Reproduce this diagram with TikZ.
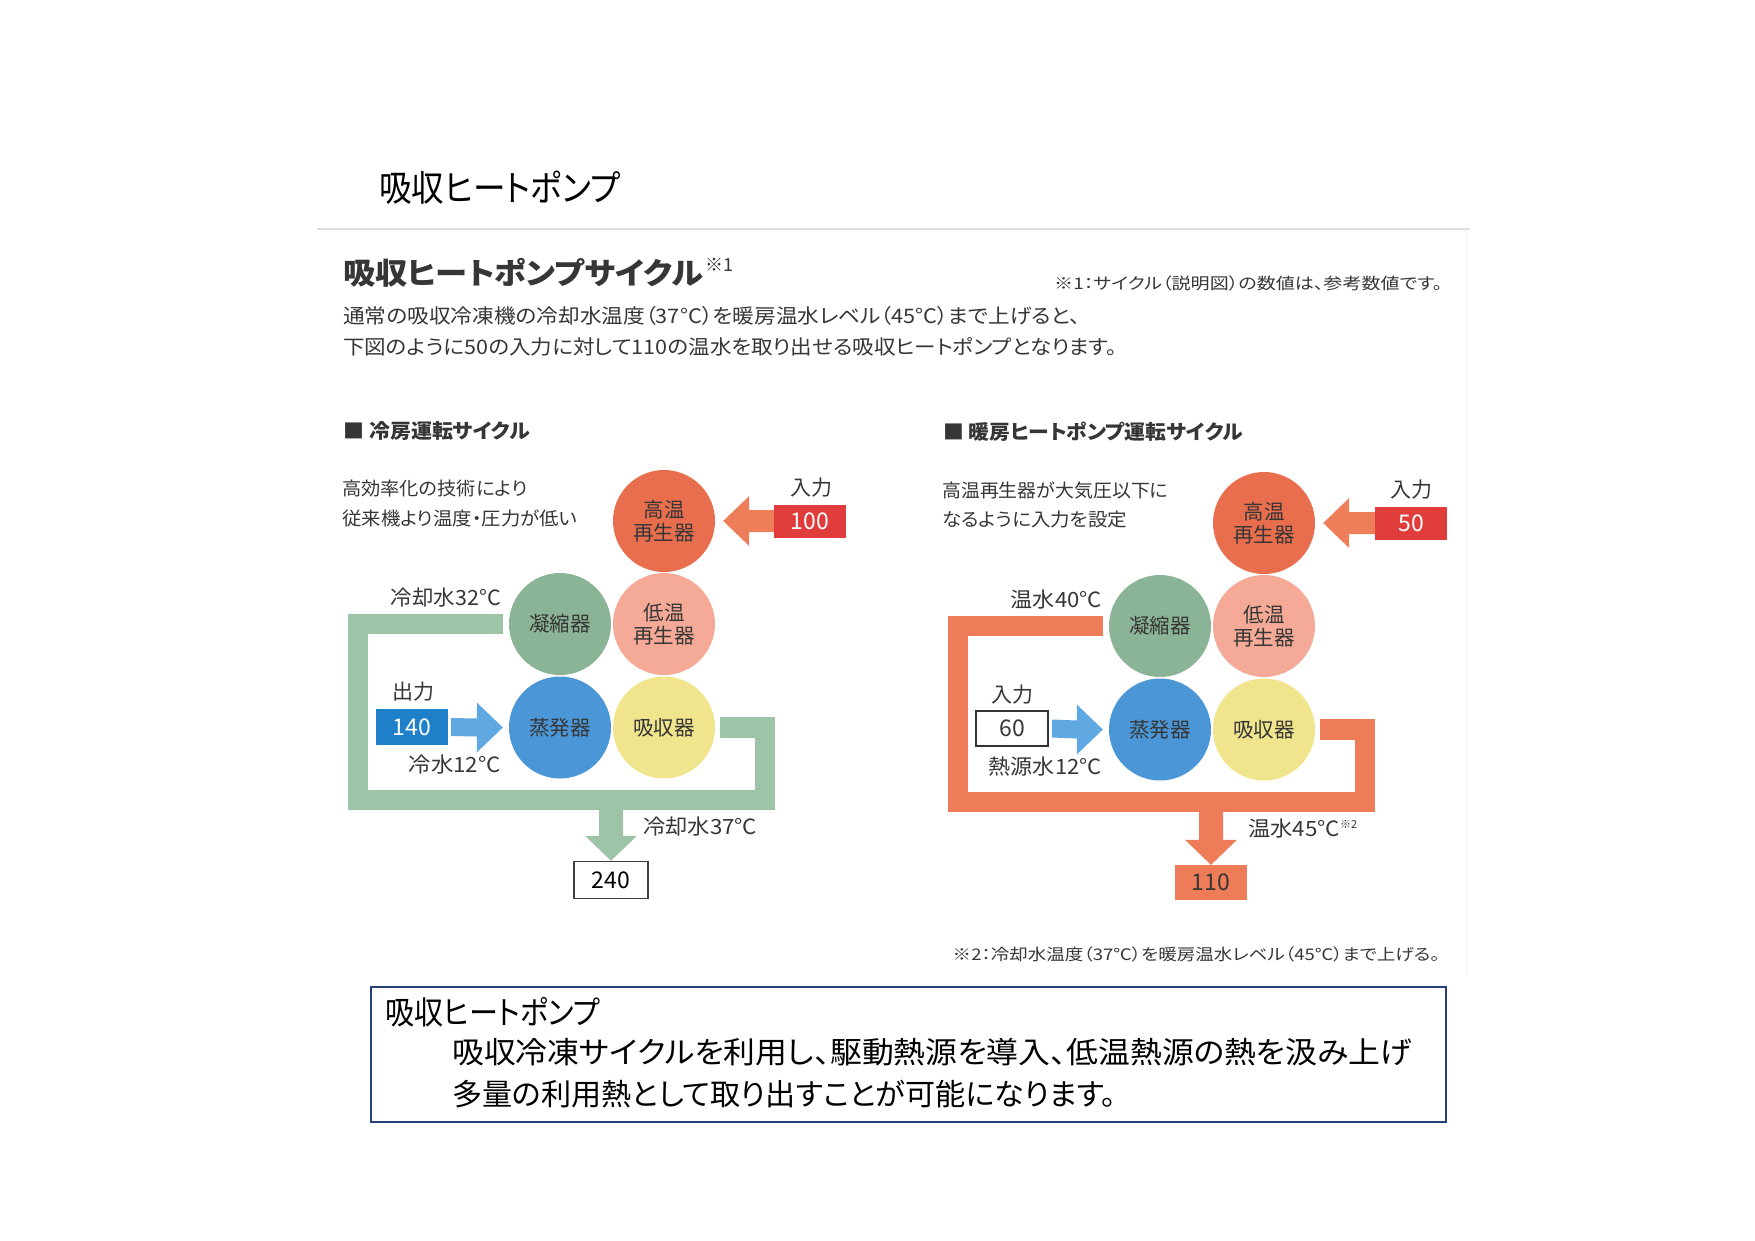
\documentclass[tikz,border=0pt]{standalone}
\usepackage{fontspec}
\usepackage{graphicx}
\usetikzlibrary{calc}
\newfontfamily\jp[RawFeature=+palt]{Noto Sans CJK JP}
\newfontfamily\jpf{Noto Sans CJK JP}
\newcommand\fw[2]{\resizebox{#1}{\height}{#2}}
\newcommand\setfs[1]{\fontsize{#1pt}{#1pt}\selectfont}
\newcommand\setfsb[2]{\fontsize{#1pt}{#2pt}\selectfont}
\definecolor{txtg}{HTML}{363636}
\definecolor{cHG}{HTML}{E86E4E}
\definecolor{cCD}{HTML}{8BB496}
\definecolor{cLG}{HTML}{F4AA96}
\definecolor{cEV}{HTML}{4B96D7}
\definecolor{cAB}{HTML}{F0E48C}
\definecolor{cArr}{HTML}{EE7D5A}
\definecolor{cRed}{HTML}{E13C3C}
\definecolor{cBlue}{HTML}{1E80C8}
\definecolor{cLBlue}{HTML}{5FA8E1}
\definecolor{cBandG}{HTML}{9DC4A6}
\definecolor{cBandO}{HTML}{EE7C58}
\definecolor{cNavy}{HTML}{24407A}
\begin{document}
\begin{tikzpicture}[x=1pt,y=-1pt,
  txt/.style={inner sep=0pt, text=txtg, font={\jp\setfs{21}}},
  blk/.style={inner sep=0pt, text=black},
  unit/.style={circle, minimum size=102pt, inner sep=0pt, align=center, text=txtg, font={\jp\setfsb{20.5}{23}}},
  valbox/.style={minimum width=72pt, minimum height=33pt, inner sep=0pt, font={\jp\setfs{23}}},
  band/.style={line width=20.5pt},
]
\useasboundingbox (0,0) rectangle (1755,1241);
\fill[white] (0,0) rectangle (1755,1241);

% ---- title and header ----
\node[blk, anchor=west, font={\jp\setfs{36}}] (title) at (379,187.5) {\fw{241pt}{吸収ヒートポンプ}};
\draw[gray!25, line width=1.5pt] (317,229) -- (1470,229);
\draw[gray!8, line width=1pt] (1466,229) -- (1466,975);

\node[txt, anchor=west, font={\jp\bfseries\setfs{30}}] (head) at (343,273) {\fw{360pt}{吸収ヒートポンプサイクル}};
\node[txt, anchor=west, font={\jp\setfs{18}}] (headn) at (705,265) {※1};
\node[txt, anchor=west, font={\jp\setfs{16}}] (note1) at (1054,283) {\fw{388pt}{※1：サイクル（説明図）の数値は、参考数値です。}};
\node[txt, anchor=west, font={\jp\setfs{20}}] (body1) at (343,316) {\fw{737pt}{通常の吸収冷凍機の冷却水温度（37°C）を暖房温水レベル（45°C）まで上げると、}};
\node[txt, anchor=west, font={\jp\setfs{20}}] (body2) at (343,346.5) {\fw{774pt}{下図のように50の入力に対して110の温水を取り出せる吸収ヒートポンプとなります。}};

\node[txt, anchor=west, font={\jp\bfseries\setfs{20}}] (sec1) at (343,431) {\fw{187pt}{■ 冷房運転サイクル}};
\node[txt, anchor=west, font={\jp\bfseries\setfs{20}}] (sec2) at (943,432) {\fw{300pt}{■ 暖房ヒートポンプ運転サイクル}};

% ---- left: cooling cycle ----
\node[txt, anchor=west, font={\jp\setfs{18.5}}] (lt1) at (342,488) {\fw{185pt}{高効率化の技術により}};
\node[txt, anchor=west, font={\jp\setfs{18.5}}] (lt2) at (342,518) {\fw{235pt}{従来機より温度・圧力が低い}};

\node[unit, fill=cHG] (hg) at (664,521) {高温\\再生器};
\node[unit, fill=cCD] (cd) at (560,624) {凝縮器};
\node[unit, fill=cLG] (lg) at (664,624) {低温\\再生器};
\node[unit, fill=cEV] (ev) at (560,727.5) {蒸発器};
\node[unit, fill=cAB] (ab) at (664,727.5) {吸収器};

\node[txt] (inl) at (811,488) {入力};
\node[valbox, fill=cRed, text=white] (in100) at (810,521) {100};
\coordinate (inTip) at ($(hg.east)+(8,0)$);
\fill[cArr] ($(in100.west)+(0,-11)$) -- ($(inTip)+(26,-11)$) -- ($(inTip)+(26,-25)$) -- (inTip)
  -- ($(inTip)+(26,25)$) -- ($(inTip)+(26,11)$) -- ($(in100.west)+(0,11)$) -- cycle;

\draw[band, cBandG] ($(cd.west)+(-6,0)$) -- (357.8,624) -- (357.8,800) -- (765,800) -- (765,727.5) -- ($(ab.east)+(5,0)$);
\node[valbox, draw=black!75, line width=1.5pt, fill=white, minimum width=74pt, minimum height=37pt] (b240) at (611,880) {240};
\fill[cBandG] ($(b240.north)+(-12,-61)$) -- ($(b240.north)+(-12,-25)$) -- ($(b240.north)+(-26,-25)$) -- (b240.north)
  -- ($(b240.north)+(26,-25)$) -- ($(b240.north)+(12,-25)$) -- ($(b240.north)+(12,-61)$) -- cycle;

\node[txt, anchor=east] (t32) at (501,598) {\fw{110pt}{冷却水32°C}};
\node[txt, anchor=west] (t37) at (643,826.5) {\fw{114pt}{冷却水37°C}};

\node[txt] (outl) at (413,692) {出力};
\node[valbox, fill=cBlue, text=white, minimum height=36pt] (o140) at (412,727) {140};
\coordinate (oTip) at ($(ev.west)+(-6,0)$);
\fill[cLBlue] ($(o140.east)+(3,-9)$) -- ($(oTip)+(-26,-9)$) -- ($(oTip)+(-26,-25)$) -- (oTip)
  -- ($(oTip)+(-26,25)$) -- ($(oTip)+(-26,9)$) -- ($(o140.east)+(3,9)$) -- cycle;
\node[txt, anchor=east] (t12) at (501,765) {\fw{92pt}{冷水12°C}};

% ---- right: heating heat-pump cycle ----
\begin{scope}[shift={(600,2)}, name prefix=R-]
\node[txt, anchor=west, font={\jp\setfs{18.5}}] (lt1) at (342,488) {\fw{226pt}{高温再生器が大気圧以下に}};
\node[txt, anchor=west, font={\jp\setfs{18.5}}] (lt2) at (342,518) {\fw{185pt}{なるように入力を設定}};

\node[unit, fill=cHG] (hg) at (664,521) {高温\\再生器};
\node[unit, fill=cCD] (cd) at (560,624) {凝縮器};
\node[unit, fill=cLG] (lg) at (664,624) {低温\\再生器};
\node[unit, fill=cEV] (ev) at (560,727.5) {蒸発器};
\node[unit, fill=cAB] (ab) at (664,727.5) {吸収器};

\node[txt] (inl) at (811,488) {入力};
\node[valbox, fill=cRed, text=white] (in50) at (811,521) {50};
\coordinate (inTip) at ($(hg.east)+(8,0)$);
\fill[cArr] ($(in50.west)+(0,-11)$) -- ($(inTip)+(26,-11)$) -- ($(inTip)+(26,-25)$) -- (inTip)
  -- ($(inTip)+(26,25)$) -- ($(inTip)+(26,11)$) -- ($(in50.west)+(0,11)$) -- cycle;

\draw[band, cBandO] ($(cd.west)+(-6,0)$) -- (357.8,624) -- (357.8,800) -- (765,800) -- (765,727.5) -- ($(ab.east)+(5,0)$);
\node[valbox, fill=cBandO, text=txtg, minimum width=72pt, minimum height=35pt] (b110) at (611,880.5) {110};
\fill[cBandO] ($(b110.north)+(-12,-64)$) -- ($(b110.north)+(-12,-25)$) -- ($(b110.north)+(-26,-25)$) -- (b110.north)
  -- ($(b110.north)+(26,-25)$) -- ($(b110.north)+(12,-25)$) -- ($(b110.north)+(12,-64)$) -- cycle;

\node[txt, anchor=east] (t40) at (502,598) {\fw{91pt}{温水40°C}};
\node[txt, anchor=west] (t45) at (648,826.5) {\fw{92pt}{温水45°C}\raisebox{8pt}{\setfs{11}※2}};

\node[txt] (inl2) at (412,693) {入力};
\node[valbox, draw=black!80, line width=1.5pt, fill=white, text=txtg, minimum height=35pt] (i60) at (412,726.5) {60};
\coordinate (oTip) at ($(ev.west)+(-6,0)$);
\fill[cLBlue] ($(i60.east)+(3,-9)$) -- ($(oTip)+(-26,-9)$) -- ($(oTip)+(-26,-25)$) -- (oTip)
  -- ($(oTip)+(-26,25)$) -- ($(oTip)+(-26,9)$) -- ($(i60.east)+(3,9)$) -- cycle;
\node[txt, anchor=east] (t12) at (502,765) {\fw{113pt}{熱源水12°C}};
\end{scope}

\node[txt, anchor=west, font={\jp\setfs{16}}] (note2) at (952.5,954) {\fw{487pt}{※2：冷却水温度（37℃）を暖房温水レベル（45℃）まで上げる。}};

% ---- definition box ----
\node[draw=cNavy, line width=2pt, minimum width=1075pt, minimum height=135pt, inner sep=0pt, anchor=north west] (defbox) at (369.5,985.5) {};
\node[blk, anchor=west, font={\jp\setfs{32}}] (d0) at (385,1012.5) {\fw{215pt}{吸収ヒートポンプ}};
\node[blk, anchor=west, font={\jp\setfs{30}}] (d1) at (452,1052.5) {\fw{960pt}{吸収冷凍サイクルを利用し、駆動熱源を導入、低温熱源の熱を汲み上げ}};
\node[blk, anchor=west, font={\jp\setfs{30}}] (d2) at (452,1094) {\fw{664pt}{多量の利用熱として取り出すことが可能になります。}};
\end{tikzpicture}
\end{document}
